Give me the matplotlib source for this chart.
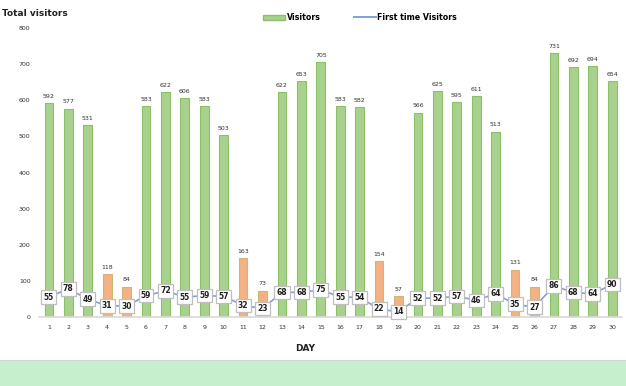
import numpy as np
import matplotlib
matplotlib.use("Agg")
import matplotlib.pyplot as plt
from matplotlib.patches import Rectangle
from matplotlib.lines import Line2D
from matplotlib.patches import Patch

days = list(range(1, 31))
visitors = [592, 577, 531, 118, 84, 583, 622, 606, 583, 503,
            163, 73, 622, 653, 705, 583, 582, 154, 57, 566,
            625, 595, 611, 513, 131, 84, 731, 692, 694, 654]
first_time = [55, 78, 49, 31, 30, 59, 72, 55, 59, 57,
              32, 23, 68, 68, 75, 55, 54, 22, 14, 52,
              52, 57, 46, 64, 35, 27, 86, 68, 64, 90]

GREEN, GREEN_EDGE = "#a9d18e", "#8cc068"
ORANGE, ORANGE_EDGE = "#f4b183", "#cdb777"
LINE = "#7f9fdc"

fig = plt.figure(figsize=(6.26, 3.86), dpi=100)
# bande verte en bas
fig.patches.append(Rectangle((0, 0), 1, 0.067, transform=fig.transFigure,
                             facecolor="#c6efce", edgecolor="none", zorder=0))
fig.lines.append(Line2D([0, 1], [0.067, 0.067], transform=fig.transFigure,
                        color="#d0d8d0", lw=0.8))

ax = fig.add_axes([0.062, 0.179, 0.932, 0.748])
x = np.array(days)
cols = [ORANGE if v < 200 else GREEN for v in visitors]
edges = [ORANGE_EDGE if v < 200 else GREEN_EDGE for v in visitors]
ax.bar(x, visitors, width=0.45, color=cols, edgecolor=edges, linewidth=0.8, zorder=2)
for xi, v in zip(x, visitors):
    ax.text(xi, v + 12, str(v), ha="center", va="bottom", fontsize=4.5,
            color="#333333", zorder=5)

ax.plot(x, first_time, color=LINE, lw=1.2, zorder=3)
for xi, v in zip(x, first_time):
    ax.text(xi, v, str(v), ha="center", va="center", fontsize=5.5,
            fontweight="bold", color="#222222", zorder=6,
            bbox=dict(boxstyle="square,pad=0.3", fc="white", ec="#bfbfbf", lw=0.9))

ax.set_xlim(0.48, 30.52)
ax.set_ylim(0, 800)
ax.set_yticks(range(0, 801, 100))
ax.set_xticks(x)
ax.tick_params(axis="both", length=0, labelsize=4.5, colors="#333333", pad=6)
for s in ["top", "right", "left"]:
    ax.spines[s].set_visible(False)
ax.spines["bottom"].set_color("#d9d9d9")
ax.spines["bottom"].set_linewidth(1.2)

fig.text(0.003, 0.965, "Total visitors", fontsize=6.5, fontweight="bold",
         ha="left", va="center", color="#222222")
fig.text(0.487, 0.098, "DAY", fontsize=6.5, fontweight="bold", ha="center",
         va="center", color="#222222")

handles = [Patch(fc=GREEN, ec=GREEN_EDGE, label="Visitors"),
           Line2D([], [], color=LINE, lw=1.4, label="First time Visitors")]
fig.legend(handles=handles, loc="center", bbox_to_anchor=(0.575, 0.955), ncol=2,
           frameon=False, handlelength=2.8, handleheight=0.6,
           columnspacing=4.2, handletextpad=0.2,
           prop=dict(weight="bold", size=5.7))

fig.savefig("out.png", dpi=100)
